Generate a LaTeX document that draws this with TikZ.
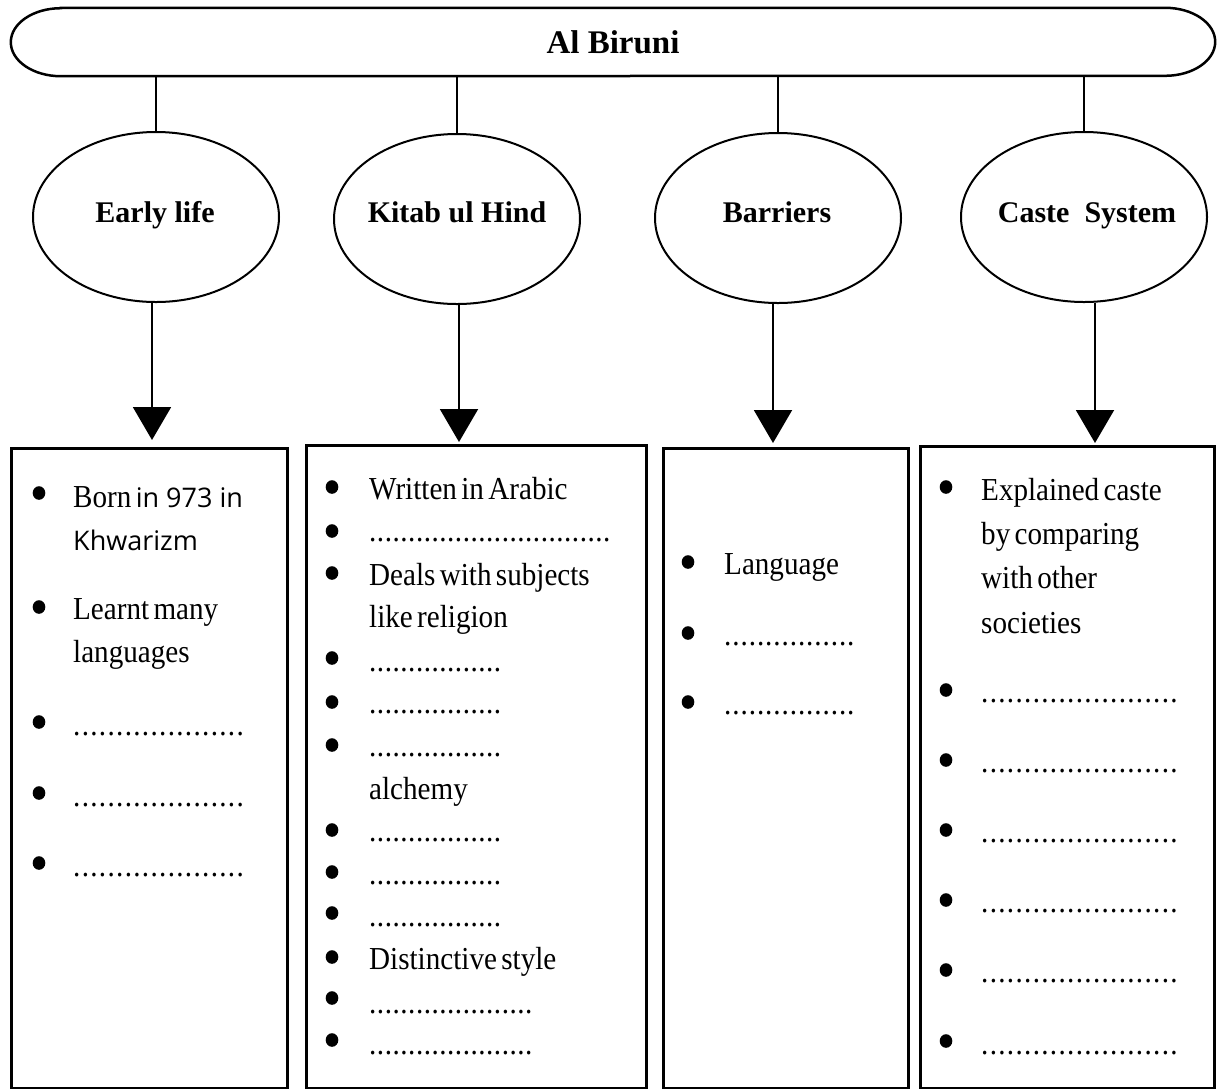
\documentclass[tikz,border=0pt]{standalone}
\usepackage{fontspec}
\setmainfont{Liberation Serif}
\newfontfamily\bodyf{Liberation Serif}[FakeStretch=0.91,WordSpace=0.6]
\newfontfamily\sansf{Open Sans}
\usetikzlibrary{shapes.geometric,arrows.meta}
\newcount\mydotcnt
\newcommand\dotrow[2]{\mydotcnt=0 \loop\makebox[#2][l]{.}\advance\mydotcnt by 1 \ifnum\mydotcnt<#1\repeat}
\tikzset{
  ln/.style={line width=2pt},
  ell/.style={draw, ellipse, line width=2pt, minimum width=246pt, minimum height=170pt, inner sep=0pt},
  lab/.style={font=\bfseries\fontsize{30}{36}\selectfont, anchor=base, inner sep=0pt},
  boxst/.style={draw, line width=2.5pt, anchor=north west, inner sep=0pt},
  txt/.style={font=\bodyf\fontsize{32}{38}\selectfont, anchor=base west, inner sep=0pt},
  arr/.style={line width=2pt, -{Triangle[width=38pt,length=33pt]}},
}
\newcommand\tx[4]{\node[txt] (#1) at (#2,#3) {#4};}
\newcommand\bl[2]{\fill (#1,#2) ellipse (6.3pt and 6.8pt);}
\begin{document}
\begin{tikzpicture}[x=1pt,y=-1pt]
\useasboundingbox (0,0) rectangle (1217,1088);
% title bar
\node[minimum width=1204pt, minimum height=68pt, inner sep=0pt, font=\bfseries\fontsize{33}{40}\selectfont] (bar) at (613,42) {Al Biruni};
\draw[line width=2.5pt] ([xshift=50pt]bar.north west) -- ([xshift=-50pt]bar.north east)
  arc[start angle=90,end angle=-90,x radius=50pt,y radius=34pt]
  -- ([xshift=50pt]bar.south west)
  arc[start angle=270,end angle=90,x radius=50pt,y radius=34pt] -- cycle;
% ellipses
\node[ell] (e1) at (156,217) {};
\node[ell] (e2) at (457,219) {};
\node[ell] (e3) at (778,218) {};
\node[ell] (e4) at (1084,217) {};
\node[lab] (l1) at (155,222) {Early life};
\node[lab] (l2) at (457,222) {Kitab ul Hind};
\node[lab] (l3) at (777,222) {Barriers};
\node[lab] (l4) at (1087,222) {Caste\ \ System};
\foreach \i in {1,...,4} \draw[ln] (bar.south -| e\i.north) -- (e\i.north);
% boxes
\node[boxst, minimum width=276pt, minimum height=640pt] (b1) at (10,447) {};
\node[boxst, minimum width=340pt, minimum height=643pt] (b2) at (305,444) {};
\node[boxst, minimum width=245pt, minimum height=640pt] (b3) at (662,447) {};
\node[boxst, minimum width=294pt, minimum height=642pt] (b4) at (919,445) {};
% arrows
\coordinate (p1) at (152,440);
\coordinate (p2) at (459,442);
\coordinate (p3) at (773,443);
\coordinate (p4) at (1095,443);
\foreach \i in {1,...,4} \draw[arr] (e\i.south -| p\i) -- (p\i);
% box 1
\bl{39}{493}\tx{a1}{73}{507}{Born {\sansf\fontsize{27}{32}\selectfont in 973 in}}
\tx{a2}{73}{550}{\sansf\fontsize{27}{32}\selectfont Khwarizm}
\bl{39}{607}\tx{a3}{73}{619}{Learnt many}
\tx{a4}{73}{662}{languages}
\bl{39}{722}\tx{a5}{73}{735}{\dotrow{20}{8.6pt}}
\bl{39}{793}\tx{a6}{73}{806}{\dotrow{20}{8.6pt}}
\bl{39}{863}\tx{a7}{73}{876}{\dotrow{20}{8.6pt}}
% box 2
\bl{332}{487}\tx{c1}{369}{499}{Written in Arabic}
\bl{332}{531}\tx{c2}{369}{541}{\dotrow{31}{7.8pt}}
\bl{332}{573}\tx{c3}{369}{585}{Deals with subjects}
\tx{c4}{369}{627}{like religion}
\bl{332}{658}\tx{c5}{369}{671}{\dotrow{17}{7.8pt}}
\bl{332}{702}\tx{c6}{369}{713}{\dotrow{17}{7.8pt}}
\bl{332}{745}\tx{c7}{369}{756}{\dotrow{17}{7.8pt}}
\tx{c8}{369}{799}{alchemy}
\bl{332}{830}\tx{c9}{369}{841}{\dotrow{17}{7.8pt}}
\bl{332}{872}\tx{c10}{369}{884}{\dotrow{17}{7.8pt}}
\bl{332}{913}\tx{c11}{369}{926}{\dotrow{17}{7.8pt}}
\bl{332}{957}\tx{c12}{369}{969}{Distinctive style}
\bl{332}{998}\tx{c13}{369}{1013}{\dotrow{21}{7.8pt}}
\bl{332}{1040}\tx{c14}{369}{1054}{\dotrow{21}{7.8pt}}
% box 3
\bl{688}{562}\tx{d1}{724}{574}{Language}
\bl{688}{633}\tx{d2}{724}{645}{\dotrow{16}{8.2pt}}
\bl{688}{702}\tx{d3}{724}{714}{\dotrow{16}{8.2pt}}
% box 4
\bl{946}{487}\tx{f1}{981}{500}{Explained caste}
\tx{f2}{981}{544}{by comparing}
\tx{f3}{981}{588}{with other}
\tx{f4}{981}{633}{societies}
\bl{946}{690}\tx{f5}{981}{702}{\dotrow{23}{8.6pt}}
\bl{946}{760}\tx{f6}{981}{772}{\dotrow{23}{8.6pt}}
\bl{946}{830}\tx{f7}{981}{842}{\dotrow{23}{8.6pt}}
\bl{946}{900}\tx{f8}{981}{912}{\dotrow{23}{8.6pt}}
\bl{946}{970}\tx{f9}{981}{982}{\dotrow{23}{8.6pt}}
\bl{946}{1041}\tx{f10}{981}{1054}{\dotrow{23}{8.6pt}}
\end{tikzpicture}
\end{document}
